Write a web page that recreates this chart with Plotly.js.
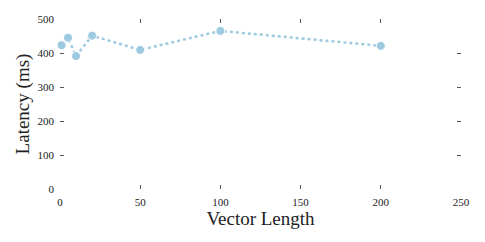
<!DOCTYPE html>
<html><head><meta charset="utf-8">
<script src="https://cdn.plot.ly/plotly-3.0.1.min.js"></script>
<style>html,body{margin:0;padding:0;background:#fff}</style>
</head><body>
<div id="chart" style="width:485px;height:242px"></div>
<script>
const vectorLength = [1, 5, 10, 20, 50, 100, 200];
const latencyMs = [423, 445, 391, 451, 409, 465, 421];
const xTicks = [0, 50, 100, 150, 200, 250];
const yTicks = [0, 100, 200, 300, 400, 500];

const fam = '"Liberation Serif", "DejaVu Serif", serif';
const axisCommon = {
  showgrid: false, zeroline: false, showline: false,
  ticks: 'inside', ticklen: 4, tickwidth: 1, tickcolor: '#555',
  mirror: 'ticks', tickfont: {family: fam, size: 11, color: '#222'}
};
Plotly.newPlot('chart', [{
  x: vectorLength, y: latencyMs, type: 'scatter', mode: 'lines+markers',
  line: {color: '#9ecae1', width: 2.5, dash: 'dot'},
  marker: {color: '#9ecae1', size: 9, line: {color: '#ffffff', width: 1}},
  cliponaxis: false
}], {
  width: 485, height: 242,
  margin: {l: 60, r: 24, t: 19, b: 53},
  paper_bgcolor: '#fff', plot_bgcolor: '#fff',
  showlegend: false,
  font: {family: fam, color: '#222'},
  xaxis: Object.assign({}, axisCommon, {
    range: [0, 250], tickvals: xTicks, ticktext: xTicks.map(String),
    ticklabelstandoff: 5,
    title: {text: 'Vector Length', font: {family: fam, size: 19, color: '#222'}, standoff: 2}
  }),
  yaxis: Object.assign({}, axisCommon, {
    range: [0, 500], tickvals: yTicks, ticktext: yTicks.map(String),
    ticklabelstandoff: 5,
    title: {text: 'Latency (ms)', font: {family: fam, size: 19, color: '#222'}, standoff: 2}
  })
}, {staticPlot: true});
</script>
</body></html>
